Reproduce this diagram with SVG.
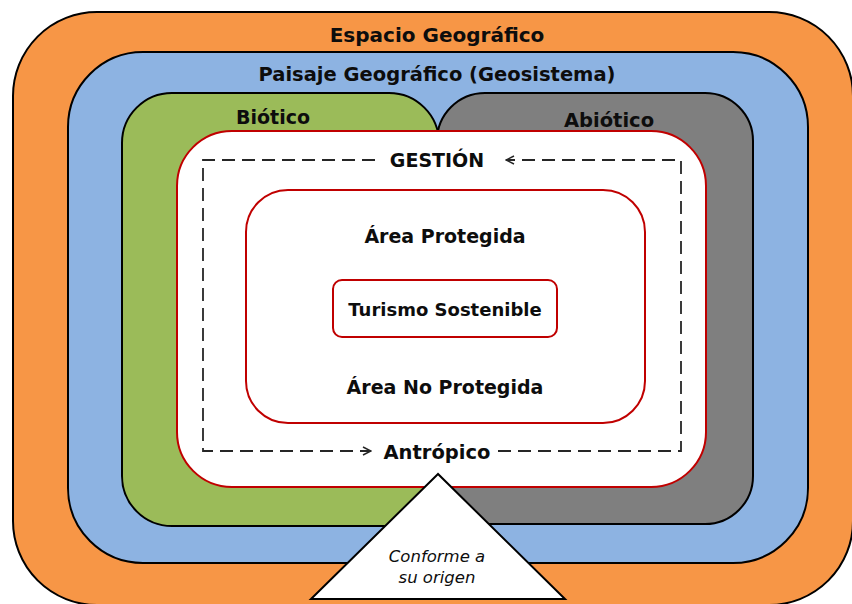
<svg xmlns="http://www.w3.org/2000/svg" width="852" height="604" viewBox="0 0 852 604">
<defs>
<style>
.frame{stroke:#000;stroke-width:2}
.red{fill:#fff;stroke:#C00000;stroke-width:2}
.t{font-family:"DejaVu Sans","Liberation Sans",sans-serif;font-weight:bold;fill:#0d0d0d;text-anchor:middle}
.it{font-family:"DejaVu Sans","Liberation Sans",sans-serif;font-style:italic;fill:#0d0d0d;text-anchor:middle;font-size:16.5px}
.dash{fill:none;stroke:#262626;stroke-width:1.8;stroke-dasharray:13 7}
.redline{stroke:#C00000;stroke-width:2}
</style>
<marker id="chev" viewBox="0 0 10 10" refX="9" refY="5" markerWidth="10" markerHeight="10" markerUnits="userSpaceOnUse" orient="auto">
<path d="M1,1 L9,5 L1,9" fill="none" stroke="#262626" stroke-width="1.5"/>
</marker>
</defs>
<g id="espacio">
<rect class="frame" x="13" y="12" width="840" height="593" rx="84" fill="#F79646"/>
<text class="t" x="437" y="42" font-size="20">Espacio Geográfico</text>
</g>
<g id="paisaje">
<rect class="frame" x="68" y="52" width="740" height="511" rx="75" fill="#8DB3E2"/>
<text class="t" x="437" y="81" font-size="19.5">Paisaje Geográfico (Geosistema)</text>
</g>
<g id="biotico">
<rect class="frame" x="122" y="93" width="317" height="433" rx="50" fill="#9BBB59"/>
<text class="t" x="273" y="124" font-size="19">Biótico</text>
</g>
<g id="abiotico">
<rect class="frame" x="437" y="93" width="316" height="431" rx="48" fill="#7F7F7F"/>
<text class="t" x="609" y="127" font-size="19.5">Abiótico</text>
</g>
<g id="antropico">
<rect class="red" x="177" y="131" width="529" height="356" rx="55"/>
<text class="t" x="437" y="167" font-size="19">GESTIÓN</text>
<text class="t" x="437" y="459" font-size="19.5">Antrópico</text>
</g>
<g id="connectors">
<path class="dash" d="M498,451 H681 V160 H506" marker-end="url(#chev)"/>
<path class="dash" d="M375,160 H203 V451 H371" marker-end="url(#chev)"/>
<line class="redline" x1="246" y1="307" x2="333" y2="307"/>
<line class="redline" x1="557" y1="307" x2="645" y2="307"/>
</g>
<g id="areas">
<rect class="red" x="246" y="190" width="399" height="233" rx="42"/>
<text class="t" x="445" y="243" font-size="19">Área Protegida</text>
<text class="t" x="445" y="394" font-size="19">Área No Protegida</text>
</g>
<g id="turismo">
<rect class="red" x="333" y="280" width="224" height="57" rx="9"/>
<text class="t" x="445" y="316" font-size="18">Turismo Sostenible</text>
</g>
<g id="origen">
<polygon class="frame" points="438,474 311,599 565,599" fill="#fff"/>
<text class="it" x="437" y="562">Conforme a</text>
<text class="it" x="437" y="583">su origen</text>
</g>
</svg>
